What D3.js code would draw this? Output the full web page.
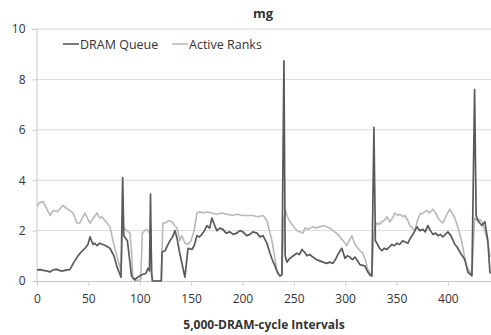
<!DOCTYPE html>
<html>
<head>
<meta charset="utf-8">
<script src="https://cdn.jsdelivr.net/npm/d3@7"></script>
<style>
  body { margin: 0; background: #fff; }
  text { font-family: "Open Sans", "DejaVu Sans", sans-serif; fill: #333; }
</style>
</head>
<body>
<svg id="chart" width="491" height="335"></svg>
<script>
// interval index / value pairs
const dramQueue = [
  [0, 0.44], [3, 0.45], [6, 0.42], [9, 0.4], [12.7, 0.36], [16, 0.45], [19.5, 0.46], [23, 0.4],
  [25.3, 0.4], [29, 0.44], [32, 0.45], [36, 0.75], [40, 1.0], [43, 1.15], [46.7, 1.3], [49.6, 1.45],
  [51.6, 1.75], [54.5, 1.45], [56, 1.5], [58.4, 1.4], [61, 1.5], [64.2, 1.45], [67, 1.4], [71, 1.3],
  [74.9, 1.0], [77.9, 0.56], [81.8, 0.15], [83.4, 4.1], [84.5, 1.8], [88, 1.6], [92, 0.2], [95, 0.05],
  [98, 0.15], [102, 0.25], [106, 0.3], [108, 0.5], [109.5, 0.4], [110.5, 3.45], [111.5, 0.3],
  [112.5, 0], [121, 0], [121.7, 1.15], [124.6, 1.2], [127, 1.4], [129.4, 1.6], [132, 1.75],
  [134.3, 2.0], [136.3, 1.7], [138.5, 1.2], [141.1, 0.7], [144, 0.15], [147, 1.3], [150.8, 1.25],
  [153, 1.4], [155.7, 1.8], [158, 1.75], [160.6, 1.85], [163, 2.0], [165.4, 2.2], [168, 2.1],
  [170.3, 2.5], [173, 2.2], [175.2, 2.0], [178, 2.1], [181, 2.05], [184, 1.9], [187.8, 1.95],
  [191, 1.85], [194.6, 1.9], [197.5, 2.0], [200.5, 1.95], [204, 1.8], [207.3, 1.85], [210, 1.95],
  [214.1, 1.9], [217, 1.75], [220, 1.8], [223.8, 1.5], [226.8, 1.1], [229, 0.85], [231.6, 0.6],
  [234.5, 0.3], [236.5, 0.2], [238.4, 0.25], [240.4, 8.74], [241.6, 1.0], [243.3, 0.75],
  [246.2, 0.9], [249.5, 1.0], [253, 1.1], [255.5, 1.05], [257.9, 1.25], [260.5, 1.15], [262.8, 1.0],
  [265.5, 1.05], [268.6, 0.95], [272, 0.85], [275.4, 0.8], [278.5, 0.75], [282.2, 0.7],
  [285, 0.75], [288.1, 0.7], [290.5, 0.85], [292.9, 1.05], [296.8, 1.3], [299.8, 0.9], [302, 1.0],
  [304.6, 0.95], [307, 0.85], [309.5, 0.95], [312, 0.8], [314.4, 0.65], [317, 0.62], [319.2, 0.6],
  [321.5, 0.4], [324.1, 0.24], [326, 0.2], [328, 6.1], [329.4, 1.6], [330.9, 1.5], [333.5, 1.3],
  [335.8, 1.2], [338, 1.3], [340.6, 1.25], [343, 1.35], [345.5, 1.45], [348, 1.4], [350.4, 1.5],
  [353, 1.45], [356.2, 1.6], [358.5, 1.55], [361.1, 1.5], [363.5, 1.7], [366, 1.85], [369.8, 2.15],
  [372.7, 2.0], [375.7, 2.05], [378, 1.95], [380.5, 2.2], [383, 2.0], [385.4, 1.85], [388, 1.9],
  [390.3, 1.8], [392.5, 1.85], [395.1, 1.75], [397.5, 1.85], [400, 1.95], [402.9, 1.8],
  [406.8, 1.45], [409, 1.35], [411.7, 1.15], [414, 1.0], [416.5, 0.85], [419.5, 0.35],
  [423.4, 0.2], [426, 7.6], [427.5, 2.6], [429.2, 2.4], [431, 2.3], [433.1, 2.2], [436, 2.35],
  [438.9, 1.6], [441, 0.3]
];

const activeRanks = [
  [0, 2.95], [2, 3.1], [6, 3.15], [9, 2.9], [12.7, 2.6], [16, 2.8], [20, 2.75], [25, 3.0],
  [30, 2.85], [35, 2.7], [39, 2.3], [41.8, 2.3], [44, 2.5], [46.7, 2.7], [49, 2.5], [51.6, 2.3],
  [55, 2.5], [58.4, 2.7], [61, 2.5], [63.3, 2.55], [66, 2.4], [68.1, 2.3], [71, 2.15], [74, 1.6],
  [78.8, 0.83], [81.8, 0.4], [83.4, 2.3], [84.5, 2.1], [87.6, 2.0], [90.5, 1.9], [92, 1.2],
  [93.4, 0.1], [96, 0], [101, 0.05], [102.5, 1.9], [105, 2.0], [107, 2.05], [109.5, 1.9],
  [110.5, 2.2], [112, 0], [121, 0], [122.5, 2.3], [125, 2.3], [128, 2.4], [131, 2.35],
  [134, 2.2], [136.3, 2.1], [139, 1.6], [141, 1.8], [144, 1.5], [147, 1.45], [150, 1.6],
  [153, 2.0], [155.7, 2.7], [158, 2.75], [162, 2.7], [165.4, 2.75], [170, 2.7], [175, 2.65],
  [180, 2.7], [185, 2.65], [190, 2.6], [195, 2.65], [200, 2.6], [205, 2.6], [210, 2.6],
  [215, 2.55], [220, 2.6], [223.8, 2.4], [228.7, 1.6], [233.5, 0.45], [236.5, 0.2], [238.4, 0.25],
  [240.4, 2.5], [242, 2.8], [243.3, 2.6], [246.2, 2.35], [249, 2.2], [253, 2.0], [255.5, 1.95],
  [258.8, 1.9], [261, 2.1], [264, 2.05], [268.6, 2.15], [272, 2.1], [275, 2.15], [279, 2.2],
  [282.2, 2.15], [285, 2.1], [288.1, 2.0], [291.5, 1.9], [294.9, 1.75], [298, 1.6], [301.7, 1.4],
  [304, 1.6], [306.6, 1.8], [309, 1.5], [311.4, 1.35], [314.5, 1.2], [317.3, 1.1], [320, 0.8],
  [322.1, 0.45], [326, 0.2], [328, 2.0], [330.9, 2.3], [333, 2.25], [335.8, 2.35], [338, 2.4],
  [340.6, 2.55], [343.6, 2.35], [346, 2.5], [348.5, 2.7], [351, 2.6], [353.3, 2.65], [356, 2.55],
  [358.2, 2.6], [361, 2.4], [363, 2.2], [365.5, 2.1], [367.9, 2.0], [370, 2.35], [372.7, 2.65],
  [376, 2.7], [379.5, 2.8], [382, 2.7], [385.4, 2.85], [388, 2.7], [390.3, 2.5], [392.5, 2.4],
  [395.1, 2.3], [398.5, 2.6], [401.9, 2.85], [404, 2.7], [406.8, 2.5], [410, 2.1], [413.6, 1.55],
  [416, 1.0], [418.5, 0.55], [423.4, 0.25], [426, 2.5], [429.2, 2.4], [431, 2.45], [433.1, 2.35],
  [436, 2.0], [438.5, 1.6], [441, 0.95]
];

const yTicks = [0, 2, 4, 6, 8, 10];
const xTicks = [0, 50, 100, 150, 200, 250, 300, 350, 400];
const seriesNames = ['DRAM Queue', 'Active Ranks'];
const seriesColors = ['#5a5a5a', '#b8b8b8'];

const svg = d3.select('#chart');
const x = d3.scaleLinear().domain([0, 441]).range([37, 490]);
const y = d3.scaleLinear().domain([0, 10]).range([281, 29]);

// gridlines
svg.append('g')
  .selectAll('line')
  .data(yTicks.filter(d => d > 0))
  .enter().append('line')
  .attr('x1', 36).attr('x2', 491)
  .attr('y1', d => y(d)).attr('y2', d => y(d))
  .attr('stroke', '#d9d9d9')
  .attr('stroke-width', 1);

// y axis
const yAxis = svg.append('g')
  .attr('transform', 'translate(36.5,0)')
  .call(d3.axisLeft(y).tickValues(yTicks).tickSize(4).tickPadding(7));
yAxis.select('.domain').attr('stroke', '#c8c8c8');
yAxis.selectAll('.tick line').attr('stroke', '#c8c8c8');
yAxis.selectAll('text')
  .style('font-size', '12px')
  .attr('fill', '#333');

// x axis
const xAxis = svg.append('g')
  .attr('transform', 'translate(0,281.5)')
  .call(d3.axisBottom(x).tickValues(xTicks).tickSize(4).tickPadding(9));
xAxis.select('.domain').attr('stroke', '#c8c8c8').attr('d', 'M36,0H491');
xAxis.selectAll('.tick line').attr('stroke', '#c8c8c8');
xAxis.selectAll('text')
  .style('font-size', '12px')
  .attr('fill', '#333');

// lines
const line = d3.line()
  .x(d => x(d[0]))
  .y(d => y(d[1]));

svg.append('path')
  .datum(activeRanks)
  .attr('fill', 'none')
  .attr('stroke', seriesColors[1])
  .attr('stroke-width', 1.6)
  .attr('stroke-linejoin', 'round')
  .attr('d', line);

svg.append('path')
  .datum(dramQueue)
  .attr('fill', 'none')
  .attr('stroke', seriesColors[0])
  .attr('stroke-width', 1.7)
  .attr('stroke-linejoin', 'round')
  .attr('d', line);

// title
svg.append('text')
  .attr('x', 263).attr('y', 18)
  .attr('text-anchor', 'middle')
  .style('font-size', '13px')
  .style('font-weight', 'bold')
  .attr('fill', '#111')
  .text('mg');

// x axis title
svg.append('text')
  .attr('x', 264).attr('y', 329)
  .attr('text-anchor', 'middle')
  .style('font-size', '12px')
  .style('font-weight', 'bold')
  .attr('fill', '#111')
  .text('5,000-DRAM-cycle Intervals');

// legend
const legendX = [63, 172];
const legend = svg.append('g')
  .selectAll('g')
  .data(seriesNames)
  .enter().append('g')
  .attr('transform', (d, i) => 'translate(' + legendX[i] + ',44)');
legend.append('line')
  .attr('x1', 0).attr('x2', 16)
  .attr('stroke', (d, i) => seriesColors[i])
  .attr('stroke-width', 1.6);
legend.append('text')
  .attr('x', 17).attr('y', 4.5)
  .style('font-size', '12.5px')
  .attr('fill', '#333')
  .text(d => d);
</script>
</body>
</html>
